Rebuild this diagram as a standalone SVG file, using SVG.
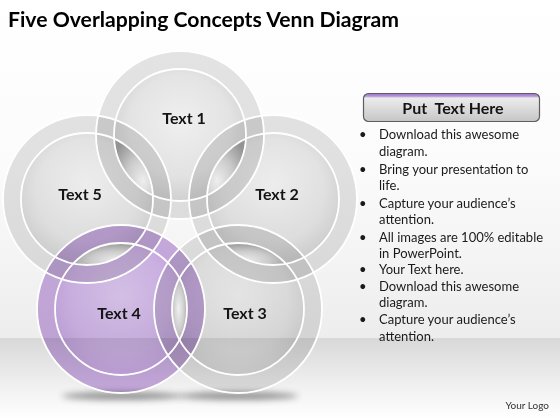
<svg xmlns="http://www.w3.org/2000/svg" width="560" height="420" viewBox="0 0 560 420">
<defs>
<linearGradient id="bgTop" x1="0" y1="0" x2="0" y2="1">
<stop offset="0" stop-color="#ffffff"/><stop offset="0.5" stop-color="#fbfbfb"/><stop offset="1" stop-color="#ededed"/>
</linearGradient>
<linearGradient id="bgFloor" x1="0" y1="0" x2="0" y2="1">
<stop offset="0" stop-color="#d8d8d8"/><stop offset="0.65" stop-color="#f3f3f3"/><stop offset="1" stop-color="#ffffff"/>
</linearGradient>
<radialGradient id="gInner" cx="0.5" cy="0.45" r="0.55" fx="0.5" fy="0.4">
<stop offset="0" stop-color="#f2f2f2"/><stop offset="0.7" stop-color="#e6e6e6"/><stop offset="1" stop-color="#d6d6d6"/>
</radialGradient>
<radialGradient id="pInner" cx="0.5" cy="0.45" r="0.55" fx="0.5" fy="0.4">
<stop offset="0" stop-color="#e0cbf3"/><stop offset="0.7" stop-color="#d4b8ec"/><stop offset="1" stop-color="#c9a9e4"/>
</radialGradient>
<radialGradient id="lens15" cx="0.7" cy="0.7" r="0.8" fx="0.75" fy="0.75">
<stop offset="0" stop-color="#eeeeee"/><stop offset="0.5" stop-color="#cbcbcb"/><stop offset="1" stop-color="#939393"/>
</radialGradient>
<radialGradient id="lens12" cx="0.3" cy="0.7" r="0.8" fx="0.25" fy="0.75">
<stop offset="0" stop-color="#eeeeee"/><stop offset="0.5" stop-color="#cbcbcb"/><stop offset="1" stop-color="#939393"/>
</radialGradient>
<radialGradient id="lens23" cx="0.35" cy="0.75" r="0.8" fx="0.3" fy="0.8">
<stop offset="0" stop-color="#eeeeee"/><stop offset="0.5" stop-color="#cbcbcb"/><stop offset="1" stop-color="#939393"/>
</radialGradient>
<radialGradient id="lens45" cx="0.65" cy="0.75" r="0.8" fx="0.7" fy="0.8">
<stop offset="0" stop-color="#eeeeee"/><stop offset="0.5" stop-color="#cbcbcb"/><stop offset="1" stop-color="#939393"/>
</radialGradient>
<radialGradient id="lens34" cx="0.45" cy="0.5" r="0.6" fx="0.4" fy="0.5">
<stop offset="0" stop-color="#f0f0f0"/><stop offset="0.55" stop-color="#cdcdcd"/><stop offset="1" stop-color="#959595"/>
</radialGradient>
<linearGradient id="btn" x1="0" y1="0" x2="0" y2="1">
<stop offset="0" stop-color="#9b6fcb"/><stop offset="0.1" stop-color="#b898da"/><stop offset="0.16" stop-color="#ececec"/><stop offset="1" stop-color="#c6c6c6"/>
</linearGradient>
<filter id="blur" x="-20%" y="-200%" width="140%" height="500%"><feGaussianBlur stdDeviation="3"/></filter>
<style>
.ring{fill:none;stroke-width:18;mix-blend-mode:multiply}
.rg{stroke:#e4e4e4}
.rp{stroke:#ccafe4}
.inner{mix-blend-mode:multiply}
.rim{fill:none;stroke:#ffffff;stroke-width:1.8}
.lbl{font-family:Lato,"Open Sans",sans-serif;font-weight:700;font-size:16px;fill:#141414;text-anchor:middle}
.body{font-family:Lato,"Open Sans",sans-serif;font-size:13px;fill:#1a1a1a}
.shadow{fill:#333333;opacity:0.5;filter:url(#blur)}
</style>
</defs>

<rect x="0" y="0" width="560" height="338" fill="url(#bgTop)"/>
<rect x="0" y="338" width="560" height="82" fill="url(#bgFloor)"/>

<text x="8" y="27" font-family="Lato, 'Open Sans', sans-serif" font-weight="700" font-size="21" fill="#000" textLength="391" lengthAdjust="spacingAndGlyphs">Five Overlapping Concepts Venn Diagram</text>

<g id="shadows">
<ellipse class="shadow" cx="122" cy="396" rx="60" ry="4"/>
<ellipse class="shadow" cx="238" cy="396" rx="60" ry="4"/>
</g>

<g id="node1">
<circle class="inner" cx="180" cy="135" r="66" fill="url(#gInner)"/>
<circle class="ring rg" cx="180" cy="135" r="75"/>
<text class="lbl" x="184" y="124">Text 1</text>
</g>
<g id="node2">
<circle class="inner" cx="273" cy="199" r="66" fill="url(#gInner)"/>
<circle class="ring rg" cx="273" cy="199" r="75"/>
<text class="lbl" x="277" y="200">Text 2</text>
</g>
<g id="node3">
<circle class="inner" cx="238" cy="309" r="66" fill="url(#gInner)"/>
<circle class="ring rg" cx="238" cy="309" r="75"/>
<text class="lbl" x="245" y="319">Text 3</text>
</g>
<g id="node5">
<circle class="inner" cx="87" cy="199" r="66" fill="url(#gInner)"/>
<circle class="ring rg" cx="87" cy="199" r="75"/>
<text class="lbl" x="80" y="200">Text 5</text>
</g>
<g id="node4">
<circle class="inner" cx="121" cy="309" r="66" fill="url(#pInner)"/>
<circle class="ring rp" cx="121" cy="309" r="75"/>
<text class="lbl" x="119" y="319">Text 4</text>
</g>

<g id="lenses">
<path d="M245.9,138.8 A66,66 0 0 1 207.1,195.2 A66,66 0 0 1 245.9,138.8 Z" fill="url(#lens12)"/>
<path d="M114.1,138.8 A66,66 0 0 0 152.9,195.2 A66,66 0 0 0 114.1,138.8 Z" fill="url(#lens15)"/>
<path d="M225,244.3 A66,66 0 0 1 286,263.7 A66,66 0 0 1 225,244.3 Z" fill="url(#lens23)"/>
<path d="M135,244.3 A66,66 0 0 0 74,263.7 A66,66 0 0 0 135,244.3 Z" fill="url(#lens45)"/>
<path d="M180,277.5 A66,66 0 0 1 180,340.5 A66,66 0 0 1 180,277.5 Z" fill="url(#lens34)"/>
</g>

<g id="rims">
<circle class="rim" cx="180" cy="135" r="84"/><circle class="rim" cx="180" cy="135" r="66"/>
<circle class="rim" cx="273" cy="199" r="84"/><circle class="rim" cx="273" cy="199" r="66"/>
<circle class="rim" cx="238" cy="309" r="84"/><circle class="rim" cx="238" cy="309" r="66"/>
<circle class="rim" cx="121" cy="309" r="84"/><circle class="rim" cx="121" cy="309" r="66"/>
<circle class="rim" cx="87" cy="199" r="84"/><circle class="rim" cx="87" cy="199" r="66"/>
</g>

<g id="header">
<rect x="363.5" y="93.5" width="176" height="28" rx="5" fill="url(#btn)" stroke="#5e5e5e" stroke-width="1.2"/>
<text x="453" y="114" font-family="Lato, 'Open Sans', sans-serif" font-weight="700" font-size="16" fill="#141414" text-anchor="middle">Put&#160; Text Here</text>
</g>

<g id="bullets" class="body">
<text x="359" y="139">•</text><text x="379" y="139">Download this awesome</text>
<text x="379" y="156">diagram.</text>
<text x="359" y="174">•</text><text x="379" y="174">Bring your presentation to</text>
<text x="379" y="190">life.</text>
<text x="359" y="208">•</text><text x="379" y="208">Capture your audience’s</text>
<text x="379" y="224">attention.</text>
<text x="359" y="242">•</text><text x="379" y="242">All images are 100% editable</text>
<text x="379" y="258">in PowerPoint.</text>
<text x="359" y="274">•</text><text x="379" y="274">Your Text here.</text>
<text x="359" y="291">•</text><text x="379" y="291">Download this awesome</text>
<text x="379" y="307">diagram.</text>
<text x="359" y="324">•</text><text x="379" y="324">Capture your audience’s</text>
<text x="379" y="341">attention.</text>
</g>

<text x="549" y="409" font-family="Lato, 'Open Sans', sans-serif" font-size="10" fill="#333" text-anchor="end">Your Logo</text>
</svg>
